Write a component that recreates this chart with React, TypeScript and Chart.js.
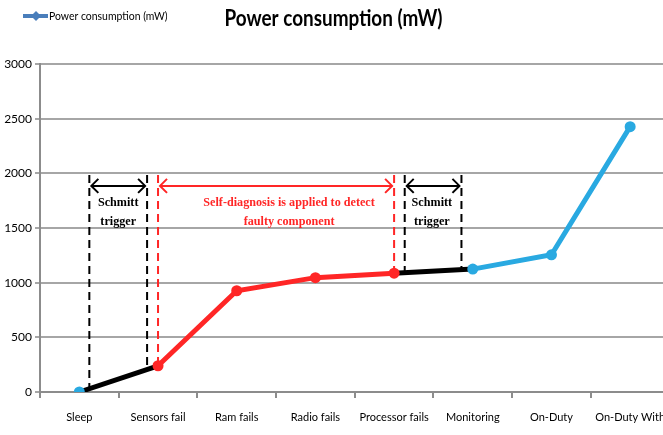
import React, { useEffect, useRef } from "react";
import { Chart, registerables } from "chart.js";

Chart.register(...registerables);

const categories = [
  "Sleep",
  "Sensors fail",
  "Ram fails",
  "Radio fails",
  "Processor fails",
  "Monitoring",
  "On-Duty",
  "On-Duty With",
];
const powerValues = [0, 240, 926, 1046, 1087, 1124, 1255, 2427];
const yTickValues = [0, 500, 1000, 1500, 2000, 2500, 3000];
const seriesLabel = "Power consumption (mW)";
const chartTitle = "Power consumption (mW)";

const BLACK = "#000000";
const RED = "#ff2626";
const CYAN = "#29a9e1";
const LEGEND_BLUE = "#4a7ebb";
const UI_FONT = "Lato, sans-serif";

const segmentColors = [BLACK, RED, RED, RED, BLACK, CYAN, CYAN];
const pointColors = [CYAN, RED, RED, RED, RED, CYAN, CYAN, CYAN];

// annotation spans on the category axis (fractional category index)
const spanStarts = [0.127, 1, 4.135];
const spanEnds = [0.861, 4, 4.856];
const spanColors = [BLACK, RED, BLACK];
const spanLabels = [
  ["Schmitt", "trigger"],
  ["Self-diagnosis is applied to detect", "faulty component"],
  ["Schmitt", "trigger"],
];
const spanLabelCenters = [0.494, 2.665, 4.48];
const spanTopValue = 1985;
const spanArrowValue = 1885;

function interp(v: number) {
  const i = Math.floor(v);
  const f = v - i;
  if (i >= powerValues.length - 1) return powerValues[powerValues.length - 1];
  return powerValues[i] + (powerValues[i + 1] - powerValues[i]) * f;
}

function condensedText(
  ctx: CanvasRenderingContext2D,
  text: string,
  x: number,
  y: number,
  font: string,
  sx: number,
  align: CanvasTextAlign
) {
  ctx.save();
  ctx.font = font;
  ctx.textAlign = align;
  ctx.textBaseline = "alphabetic";
  ctx.translate(x, y);
  ctx.scale(sx, 1);
  ctx.fillText(text, 0, 0);
  ctx.restore();
}

const annotationPlugin = {
  id: "spans",
  beforeDatasetsDraw(chart: any) {
    const ctx = chart.ctx;
    const xs = chart.scales.x;
    const ys = chart.scales.y;
    const yTop = ys.getPixelForValue(spanTopValue);
    const yArrow = ys.getPixelForValue(spanArrowValue);
    ctx.save();
    for (let k = 0; k < spanStarts.length; k++) {
      const color = spanColors[k];
      const x1 = xs.getPixelForValue(spanStarts[k]);
      const x2 = xs.getPixelForValue(spanEnds[k]);
      ctx.strokeStyle = color;
      ctx.lineWidth = 2;
      ctx.setLineDash([8, 5]);
      for (const v of [spanStarts[k], spanEnds[k]]) {
        const x = xs.getPixelForValue(v);
        ctx.beginPath();
        ctx.moveTo(x, yTop);
        ctx.lineTo(x, ys.getPixelForValue(interp(v)));
        ctx.stroke();
      }
      ctx.setLineDash([]);
      ctx.beginPath();
      ctx.moveTo(x1 + 2, yArrow);
      ctx.lineTo(x2 - 2, yArrow);
      ctx.stroke();
      const ah = 7;
      ctx.beginPath();
      ctx.moveTo(x1 + 2 + ah, yArrow - ah);
      ctx.lineTo(x1 + 2, yArrow);
      ctx.lineTo(x1 + 2 + ah, yArrow + ah);
      ctx.moveTo(x2 - 2 - ah, yArrow - ah);
      ctx.lineTo(x2 - 2, yArrow);
      ctx.lineTo(x2 - 2 - ah, yArrow + ah);
      ctx.stroke();
      ctx.fillStyle = color;
      const cx = xs.getPixelForValue(spanLabelCenters[k]);
      spanLabels[k].forEach((t, i) => {
        condensedText(ctx, t, cx, yArrow + 20 + i * 19, "bold 13.5px 'Liberation Serif', serif", 0.9, "center");
      });
    }
    ctx.restore();
  },
  afterDraw(chart: any) {
    const ctx = chart.ctx;
    ctx.save();
    // title
    ctx.fillStyle = "#000";
    const mid = (chart.chartArea.left + 663) / 2 - 18;
    condensedText(ctx, chartTitle, mid, 26, "bold 22px " + UI_FONT, 0.86, "center");
    // legend
    const ly = 16;
    ctx.strokeStyle = LEGEND_BLUE;
    ctx.lineWidth = 4;
    ctx.beginPath();
    ctx.moveTo(23, ly);
    ctx.lineTo(48, ly);
    ctx.stroke();
    ctx.fillStyle = LEGEND_BLUE;
    ctx.beginPath();
    ctx.moveTo(36, ly - 5);
    ctx.lineTo(41, ly);
    ctx.lineTo(36, ly + 5);
    ctx.lineTo(31, ly);
    ctx.closePath();
    ctx.fill();
    ctx.fillStyle = "#000";
    condensedText(ctx, seriesLabel, 49, 20, "12px " + UI_FONT, 0.87, "left");
    ctx.restore();
  },
};

export default function App() {
  const ref = useRef<HTMLCanvasElement | null>(null);
  useEffect(() => {
    if (!ref.current) return;
    const chart = new Chart(ref.current, {
      type: "line",
      data: {
        labels: categories,
        datasets: [
          {
            label: seriesLabel,
            data: powerValues,
            borderWidth: 5,
            borderColor: BLACK,
            segment: {
              borderColor: (c: any) => segmentColors[c.p0DataIndex],
            },
            pointBackgroundColor: pointColors,
            pointBorderColor: pointColors,
            pointRadius: 5.5,
            pointBorderWidth: 0,
            tension: 0,
          },
        ],
      },
      options: {
        responsive: false,
        animation: false,
        layout: { padding: { left: 0, right: 3, top: 64, bottom: 0 } },
        plugins: {
          legend: { display: false },
          tooltip: { enabled: false },
          title: { display: false },
        },
        scales: {
          x: {
            offset: true,
            grid: {
              offset: true,
              drawOnChartArea: false,
              drawTicks: true,
              tickLength: 6,
              color: "#8c8c8c",
              lineWidth: 2,
            },
            border: { display: true, color: "#8c8c8c", width: 2 },
            ticks: {
              color: "#000",
              font: { family: UI_FONT, size: 11 },
              padding: 13,
              maxRotation: 0,
              autoSkip: false,
            },
            afterFit: (s: any) => {
              s.height = 43;
              s.paddingLeft = 0;
              s.paddingRight = 0;
            },
          },
          y: {
            min: 0,
            max: 3000,
            afterBuildTicks: (s: any) => {
              s.ticks = yTickValues.map((v) => ({ value: v }));
            },
            grid: {
              color: "#a6a6a6",
              lineWidth: 2,
              tickLength: 5,
            },
            border: { display: true, color: "#8c8c8c", width: 2 },
            ticks: {
              color: "#000",
              font: { family: UI_FONT, size: 12 },
              padding: 3,
              callback: (v: any) => String(v),
            },
            afterFit: (s: any) => {
              s.width = 40;
              s.paddingTop = 0;
              s.paddingBottom = 0;
            },
          },
        },
      },
      plugins: [annotationPlugin],
    });
    return () => chart.destroy();
  }, []);
  return (
    <div
      style={{
        position: "fixed",
        left: 0,
        top: 0,
        width: 663,
        height: 435,
        overflow: "hidden",
        background: "#fff",
      }}
    >
      <canvas ref={ref} width={675} height={435} style={{ display: "block" }} />
    </div>
  );
}
